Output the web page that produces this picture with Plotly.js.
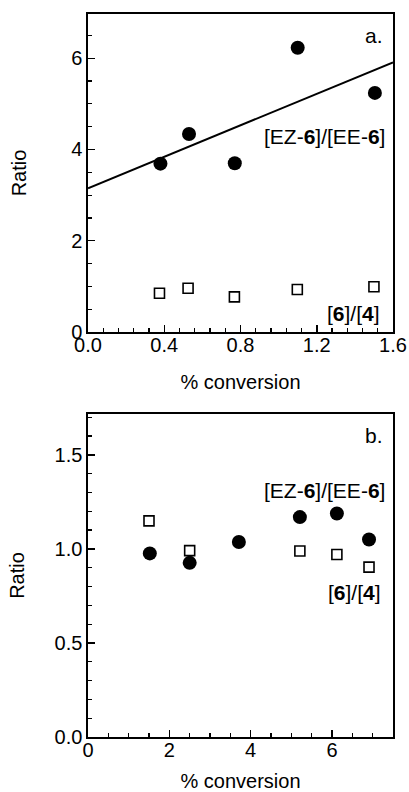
<!DOCTYPE html>
<html>
<head>
<meta charset="utf-8">
<script src="https://cdn.plot.ly/plotly-3.0.1.min.js"></script>
<style>html,body{margin:0;padding:0;background:#fff;}#chart{width:409px;height:792px;}</style>
</head>
<body>
<div id="chart"></div>
<script>
// Panel a
const aConvEZ = [0.38, 0.53, 0.77, 1.10, 1.505];
const aRatioEZ = [3.69, 4.34, 3.70, 6.23, 5.24];
const aConvP = [0.375, 0.525, 0.768, 1.098, 1.50];
const aRatioP = [0.85, 0.96, 0.77, 0.93, 0.99];
const aFitX = [0.0, 1.6];
const aFitY = [3.15, 5.91];
// Panel b
const bConvEZ = [1.52, 2.50, 3.71, 5.21, 6.12, 6.91];
const bRatioEZ = [0.976, 0.926, 1.037, 1.169, 1.188, 1.050];
const bConvP = [1.50, 2.50, 5.21, 6.12, 6.91];
const bRatioP = [1.149, 0.991, 0.989, 0.970, 0.903];

const FONT = 'Liberation Sans, Arial, sans-serif';
const circ = {symbol:'circle', size:14, color:'#000', line:{width:0}};
const sq = {symbol:'square-open', size:10, color:'#000', line:{width:1.6}};

const traces = [
  {x:aFitX, y:aFitY, mode:'lines', line:{color:'#000', width:2}, xaxis:'x', yaxis:'y', showlegend:false},
  {x:aConvEZ, y:aRatioEZ, mode:'markers', marker:circ, xaxis:'x', yaxis:'y', showlegend:false},
  {x:aConvP, y:aRatioP, mode:'markers', marker:sq, xaxis:'x', yaxis:'y', showlegend:false},
  {x:bConvEZ, y:bRatioEZ, mode:'markers', marker:circ, xaxis:'x2', yaxis:'y2', showlegend:false},
  {x:bConvP, y:bRatioP, mode:'markers', marker:sq, xaxis:'x2', yaxis:'y2', showlegend:false}
];

function ax(extra){
  return Object.assign({
    showline:true, linecolor:'#000', linewidth:1.6, mirror:true,
    ticks:'inside', ticklen:7, tickwidth:1.5, tickcolor:'#000',
    showgrid:false, zeroline:false,
    tickfont:{family:FONT, size:20, color:'#000'}
  }, extra);
}
const tf = {family:FONT, size:20, color:'#000'};

const layout = {
  width:409, height:792,
  margin:{l:88, r:16, t:14, b:55},
  paper_bgcolor:'#fff', plot_bgcolor:'#fff',
  font:{family:FONT, color:'#000'},
  xaxis: ax({domain:[0,1], anchor:'y', range:[0,1.6], dtick:0.4, tickformat:'.1f', ticklabelstandoff:-6,
    minor:{ticks:'inside', dtick:0.08, ticklen:4, tickcolor:'#000', tickwidth:1.2, showgrid:false},
    title:{text:'% conversion', standoff:20, font:tf}}),
  yaxis: ax({domain:[0.5602,1], anchor:'x', range:[0,6.97], dtick:2,
    minor:{ticks:'inside', dtick:0.5, ticklen:4, tickcolor:'#000', tickwidth:1.2, showgrid:false},
    title:{text:'Ratio', standoff:39, font:tf}}),
  xaxis2: ax({domain:[0,1], anchor:'y2', range:[0,7.5], dtick:2, ticklabelstandoff:-6,
    minor:{ticks:'inside', dtick:0.5, ticklen:4, tickcolor:'#000', tickwidth:1.2, showgrid:false},
    title:{text:'% conversion', standoff:25, font:tf}}),
  yaxis2: ax({domain:[0,0.4467], anchor:'x2', range:[0,1.717], dtick:0.5, tickformat:'.1f',
    minor:{ticks:'inside', dtick:0.1, ticklen:4, tickcolor:'#000', tickwidth:1.2, showgrid:false},
    title:{text:'Ratio', standoff:24, font:tf}}),
  annotations:[
    {xref:'paper', yref:'paper', x:0.974, y:0.9709, xanchor:'right', yanchor:'middle', text:'a.', showarrow:false, font:{family:FONT, size:21, color:'#000'}},
    {xref:'paper', yref:'paper', x:0.980, y:0.830, xanchor:'right', yanchor:'middle', text:'[EZ-<b>6</b>]/[EE-<b>6</b>]', showarrow:false, font:{family:FONT, size:21, color:'#000'}},
    {xref:'paper', yref:'paper', x:0.964, y:0.5864, xanchor:'right', yanchor:'middle', text:'[<b>6</b>]/[<b>4</b>]', showarrow:false, font:{family:FONT, size:21, color:'#000'}},
    {xref:'paper', yref:'paper', x:0.974, y:0.4177, xanchor:'right', yanchor:'middle', text:'b.', showarrow:false, font:{family:FONT, size:21, color:'#000'}},
    {xref:'paper', yref:'paper', x:0.980, y:0.3416, xanchor:'right', yanchor:'middle', text:'[EZ-<b>6</b>]/[EE-<b>6</b>]', showarrow:false, font:{family:FONT, size:21, color:'#000'}},
    {xref:'paper', yref:'paper', x:0.967, y:0.1992, xanchor:'right', yanchor:'middle', text:'[<b>6</b>]/[<b>4</b>]', showarrow:false, font:{family:FONT, size:21, color:'#000'}}
  ]
};

Plotly.newPlot('chart', traces, layout, {displayModeBar:false, staticPlot:true});
</script>
</body>
</html>
